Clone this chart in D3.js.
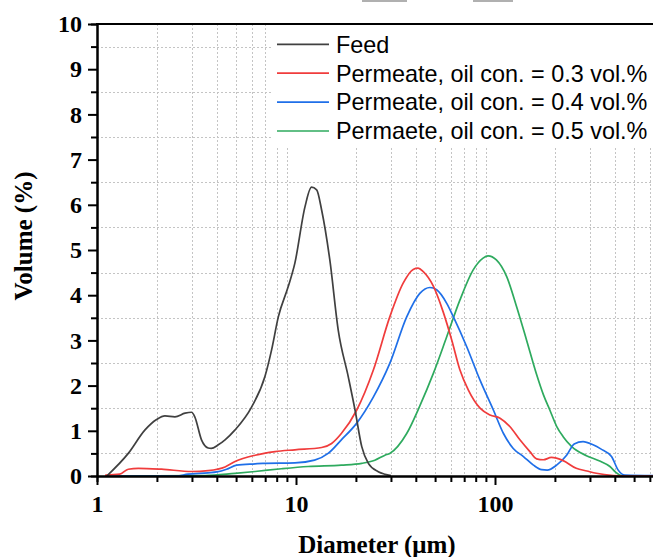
<!DOCTYPE html>
<html>
<head>
<meta charset="utf-8">
<script src="https://cdn.jsdelivr.net/npm/d3@7"></script>
<style>
  html, body { margin: 0; padding: 0; background: #fff; }
  svg { display: block; }
</style>
</head>
<body>
<svg id="chart" width="653" height="557"></svg>
<script>
// Droplet size distributions (volume %, vs. diameter in µm)
const feedD = [1.12, 1.436, 1.743, 1.993, 2.196, 2.464, 2.77, 2.99, 3.1, 3.35, 3.62, 3.75, 4.07, 4.4, 4.94, 5.99, 6.98, 7.54, 8.15, 9.14, 9.87, 11.1, 11.96, 12.7, 13.46, 14.79, 16.3, 18.3, 19.8, 21.4, 23.1, 25.9, 28.0, 30.0];
const feedV = [0, 0.50, 1.02, 1.25, 1.33, 1.31, 1.39, 1.41, 1.31, 0.80, 0.62, 0.61, 0.69, 0.80, 1.02, 1.53, 2.20, 2.79, 3.52, 4.19, 4.71, 5.96, 6.39, 6.33, 5.88, 4.78, 3.23, 2.20, 1.46, 0.65, 0.28, 0.095, 0.04, 0.01];

const p03D = [1.1, 1.3, 1.436, 1.613, 2.11, 2.99, 3.62, 4.4, 4.94, 6.23, 7.85, 9.87, 13.46, 15.1, 16.9, 20.2, 24.5, 29.6, 34.5, 38.8, 41.1, 43.6, 49.0, 55.0, 60.7, 66.6, 73.5, 84.1, 94.4, 106, 119, 133.4, 149.7, 161.7, 174.9, 192, 220, 256, 290, 323, 393, 450, 1000];
const p03V = [0.02, 0.04, 0.15, 0.17, 0.15, 0.10, 0.12, 0.20, 0.32, 0.46, 0.54, 0.58, 0.63, 0.72, 0.94, 1.46, 2.35, 3.52, 4.26, 4.57, 4.60, 4.52, 4.20, 3.62, 3.00, 2.35, 1.90, 1.50, 1.35, 1.28, 1.09, 0.80, 0.54, 0.38, 0.36, 0.41, 0.34, 0.17, 0.11, 0.06, 0.01, 0, 0];

const p04D = [1.1, 2.5, 2.86, 3.61, 4.0, 4.48, 5.03, 6.23, 6.8, 9.87, 12.4, 14.5, 16.9, 20.2, 24.5, 29.6, 36.0, 41.9, 47.1, 50.9, 57.2, 61.8, 72.1, 84.1, 98.1, 110.3, 123.5, 139, 156, 171.5, 183, 204, 229, 250, 277, 311, 340, 385, 416, 450, 1000];
const p04V = [0, 0, 0.04, 0.07, 0.09, 0.15, 0.24, 0.27, 0.28, 0.29, 0.35, 0.50, 0.80, 1.17, 1.75, 2.49, 3.52, 4.04, 4.17, 4.12, 3.82, 3.52, 2.86, 2.12, 1.46, 0.94, 0.61, 0.43, 0.24, 0.14, 0.13, 0.24, 0.46, 0.71, 0.76, 0.69, 0.60, 0.43, 0.13, 0.02, 0];

const p05D = [1.1, 3.5, 4.94, 6.23, 8.45, 11.5, 16.9, 21.4, 24.9, 28.0, 29.6, 36.0, 41.9, 49.0, 57.2, 66.6, 77.7, 87.1, 92.3, 101.6, 114.5, 128.3, 144, 161.7, 175, 189, 204, 220, 243, 288, 336, 378, 405, 430, 460, 1000];
const p05V = [0, 0.01, 0.06, 0.10, 0.16, 0.21, 0.24, 0.28, 0.35, 0.46, 0.50, 0.94, 1.55, 2.27, 3.08, 3.89, 4.56, 4.82, 4.87, 4.78, 4.41, 3.75, 3.01, 2.25, 1.80, 1.45, 1.10, 0.87, 0.65, 0.45, 0.33, 0.21, 0.08, 0.01, 0, 0];

const seriesNames = ["Feed", "Permeate, oil con. = 0.3 vol.%", "Permeate, oil con. = 0.4 vol.%", "Permaete, oil con. = 0.5 vol.%"];
const seriesColors = ["#404040", "#f03c3c", "#1f6fe8", "#2eaa5e"];

const yTicks = [0, 1, 2, 3, 4, 5, 6, 7, 8, 9, 10];
const yMinor = [0.5, 1.5, 2.5, 3.5, 4.5, 5.5, 6.5, 7.5, 8.5, 9.5];
const xTicks = [1, 10, 100];
const xMinor = [2, 3, 4, 5, 6, 7, 8, 9, 20, 30, 40, 50, 60, 70, 80, 90, 200, 300, 400, 500, 600];

const xTitle = "Diameter (μm)";
const yTitle = "Volume (%)";

// ---- layout ----
const svg = d3.select("#chart");
const plotL = 97, plotT = 24, plotB = 476, plotR = 653;
const x = d3.scaleLog().domain([1, 1000]).range([plotL, plotL + 3 * 199]);
const y = d3.scaleLinear().domain([0, 10]).range([plotB, plotT]);

const serif = "'Liberation Serif', 'Times New Roman', serif";
const sans = "'Liberation Sans', Arial, sans-serif";

// thin bars along the very top edge
svg.append("rect").attr("x", 362).attr("y", 0).attr("width", 45).attr("height", 2).attr("fill", "#b0b0b0");
svg.append("rect").attr("x", 473).attr("y", 0).attr("width", 40).attr("height", 2).attr("fill", "#b0b0b0");

// dotted grid on minor ticks
const grid = svg.append("g").attr("stroke", "#c4c4c4").attr("stroke-width", 1).attr("stroke-dasharray", "2,2");
grid.selectAll("line.gx").data(xMinor).join("line")
  .attr("x1", d => Math.round(x(d)) + 0.5).attr("x2", d => Math.round(x(d)) + 0.5)
  .attr("y1", plotT).attr("y2", plotB);
grid.selectAll("line.gy").data(yMinor).join("line")
  .attr("x1", plotL).attr("x2", plotR)
  .attr("y1", d => Math.round(y(d)) + 0.5).attr("y2", d => Math.round(y(d)) + 0.5);

// legend background
const legX = 273, legY = 25;
svg.append("rect").attr("x", legX).attr("y", legY).attr("width", plotR - legX).attr("height", 123).attr("fill", "#fff");

// curves
svg.append("clipPath").attr("id", "plotclip").append("rect")
  .attr("x", plotL).attr("y", plotT).attr("width", plotR - plotL).attr("height", plotB - plotT);

const line = d3.line().x(d => x(d[0])).y(d => y(d[1])).curve(d3.curveMonotoneX);
const series = [
  d3.zip(feedD, feedV),
  d3.zip(p03D, p03V),
  d3.zip(p04D, p04V),
  d3.zip(p05D, p05V)
];
const plot = svg.append("g").attr("clip-path", "url(#plotclip)");
[3, 2, 1, 0].forEach(i => {
  plot.append("path").datum(series[i])
    .attr("d", line)
    .attr("fill", "none")
    .attr("stroke", seriesColors[i])
    .attr("stroke-width", 1.7)
    .attr("stroke-linejoin", "round");
});

// axes
const axisStyle = g => {
  g.select(".domain").attr("stroke", "#000").attr("stroke-width", 2);
  g.selectAll(".tick line").attr("stroke", "#000").attr("stroke-width", 2);
  g.selectAll(".tick text").attr("font-family", serif).attr("font-weight", "bold").attr("font-size", 24).attr("fill", "#000");
};

svg.append("g").attr("transform", `translate(${plotL},0)`)
  .call(d3.axisLeft(y).tickValues(yMinor).tickSize(6).tickFormat(""))
  .call(axisStyle);
svg.append("g").attr("transform", `translate(${plotL},0)`)
  .call(d3.axisLeft(y).tickValues(yTicks).tickSize(9).tickPadding(6).tickSizeOuter(0).tickFormat(d3.format("d")))
  .call(axisStyle);

svg.append("g").attr("transform", `translate(0,${plotB})`)
  .call(d3.axisBottom(x).tickValues(xMinor).tickSize(6).tickFormat(""))
  .call(axisStyle);
svg.append("g").attr("transform", `translate(0,${plotB})`)
  .call(d3.axisBottom(x).tickValues(xTicks).tickSize(9).tickPadding(10).tickSizeOuter(0).tickFormat(d3.format("d")))
  .call(axisStyle);

// top frame line
svg.append("line").attr("x1", plotL - 1).attr("x2", plotR).attr("y1", plotT).attr("y2", plotT)
  .attr("stroke", "#000").attr("stroke-width", 2);

// axis titles
svg.append("text").attr("x", 377).attr("y", 553).attr("text-anchor", "middle")
  .attr("font-family", serif).attr("font-weight", "bold").attr("font-size", 25).text(xTitle);
svg.append("text").attr("transform", "translate(32,236) rotate(-90)").attr("text-anchor", "middle")
  .attr("font-family", serif).attr("font-weight", "bold").attr("font-size", 25).text(yTitle);

// legend
const leg = svg.append("g");
seriesNames.forEach((name, i) => {
  const ly = 44.3 + i * 28.9;
  leg.append("line").attr("x1", 277).attr("x2", 329).attr("y1", ly).attr("y2", ly)
    .attr("stroke", seriesColors[i]).attr("stroke-width", 1.7);
  leg.append("text").attr("x", 336).attr("y", ly + 8.3)
    .attr("font-family", sans).attr("font-size", 23.4).attr("fill", "#000").text(name);
});
</script>
</body>
</html>
